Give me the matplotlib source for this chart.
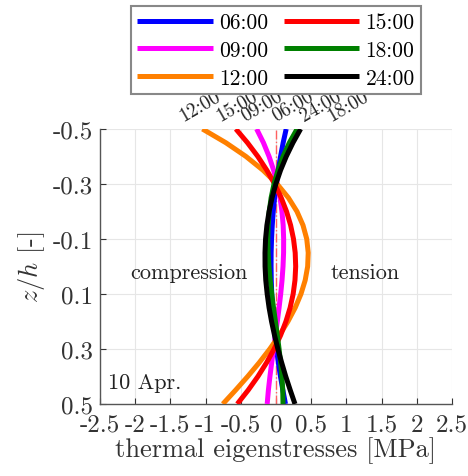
import matplotlib
matplotlib.use("Agg")
import matplotlib.pyplot as plt

plt.rcParams["font.family"] = ["cmr10", "DejaVu Serif"]
plt.rcParams["mathtext.fontset"] = "cm"
plt.rcParams["axes.formatter.use_mathtext"] = True

# depth coordinate through the slab thickness
z = [-0.50, -0.45, -0.40, -0.35, -0.30, -0.25, -0.20, -0.15, -0.10, -0.05, 0.00,
     0.05, 0.10, 0.15, 0.20, 0.25, 0.30, 0.35, 0.40, 0.45, 0.50]

# thermal eigenstress profiles [MPa] at different times of day
s_0600 = [0.145, 0.102, 0.065, 0.032, 0.004, -0.020, -0.039, -0.053, -0.063, -0.069, -0.070,
          -0.067, -0.060, -0.049, -0.034, -0.015, 0.007, 0.034, 0.064, 0.098, 0.135]
s_0900 = [-0.275, -0.178, -0.098, -0.033, 0.019, 0.058, 0.085, 0.102, 0.109, 0.108, 0.100,
          0.086, 0.067, 0.044, 0.019, -0.008, -0.035, -0.061, -0.086, -0.108, -0.125]
s_1200 = [-1.045, -0.712, -0.426, -0.184, 0.016, 0.176, 0.298, 0.384, 0.437, 0.458, 0.450,
          0.415, 0.355, 0.273, 0.170, 0.049, -0.088, -0.239, -0.402, -0.575, -0.755]
s_1500 = [-0.570, -0.405, -0.258, -0.130, -0.019, 0.074, 0.150, 0.208, 0.249, 0.273, 0.280,
          0.270, 0.244, 0.201, 0.141, 0.066, -0.026, -0.134, -0.257, -0.396, -0.550]
s_1800 = [0.300, 0.190, 0.100, 0.028, -0.028, -0.069, -0.096, -0.111, -0.116, -0.112, -0.100,
          -0.082, -0.060, -0.035, -0.008, 0.019, 0.044, 0.066, 0.084, 0.096, 0.100]
s_2400 = [0.350, 0.241, 0.146, 0.065, -0.002, -0.056, -0.098, -0.129, -0.148, -0.156, -0.155,
          -0.145, -0.125, -0.098, -0.063, -0.021, 0.027, 0.081, 0.139, 0.203, 0.270]

times = ["06:00", "09:00", "12:00", "15:00", "18:00", "24:00"]
profiles = [s_0600, s_0900, s_1200, s_1500, s_1800, s_2400]
colors = ["#0000ff", "#ff00ff", "#ff8000", "#ff0000", "#008000", "#000000"]

# x position of each time label above the top surface
label_x = [0.24, -0.20, -1.08, -0.55, 1.02, 0.64]

x_ticks = [-2.5, -2, -1.5, -1, -0.5, 0, 0.5, 1, 1.5, 2, 2.5]
x_ticklabels = ["-2.5", "-2", "-1.5", "-1", "-0.5", "0", "0.5", "1", "1.5", "2", "2.5"]
y_ticks = [-0.5, -0.3, -0.1, 0.1, 0.3, 0.5]
y_ticklabels = ["-0.5", "-0.3", "-0.1", "0.1", "0.3", "0.5"]

fig = plt.figure(figsize=(4.68, 4.77), dpi=100)
ax = fig.add_axes([0.2137, 0.151, 0.752, 0.5765])

ax.axvline(0, color="#ff6060", lw=1.0, ls="-.", zorder=1)

lines = []
for t, s, c in zip(times, profiles, colors):
    ln, = ax.plot(s, z, color=c, lw=3.6, label=t, zorder=3, solid_capstyle="butt")
    lines.append(ln)

for t, lx in zip(times, label_x):
    ax.text(lx, -0.515, t, rotation=30, ha="center", va="bottom",
            fontsize=14, color="#222222", clip_on=False)

ax.set_xlim(-2.5, 2.5)
ax.set_ylim(0.5, -0.5)
ax.set_xticks(x_ticks)
ax.set_xticklabels(x_ticklabels)
ax.set_yticks(y_ticks)
ax.set_yticklabels(y_ticklabels)
ax.tick_params(direction="in", labelsize=18, colors="#333333", length=4, pad=5)
ax.tick_params(axis="x", pad=7)
ax.grid(True, color="#e6e6e6", lw=0.8)
ax.set_axisbelow(True)
for side in ("top", "right"):
    ax.spines[side].set_visible(False)
for side in ("left", "bottom"):
    ax.spines[side].set_color("#555555")
    ax.spines[side].set_linewidth(1.0)

ax.set_xlabel("thermal eigenstresses [MPa]", fontsize=19, color="#333333", labelpad=0)
ax.set_ylabel(r"$z/h$ [-]", fontsize=19, color="#333333", labelpad=4)

ax.text(-1.24, 0.02, "compression", fontsize=16, ha="center", va="center", color="#222222")
ax.text(1.26, 0.02, "tension", fontsize=16, ha="center", va="center", color="#222222")
ax.text(-2.38, 0.42, "10 Apr.", fontsize=16, ha="left", va="center", color="#222222")

leg = fig.legend(lines, times,
                 ncol=2, loc="upper center", bbox_to_anchor=(0.59, 0.985),
                 fontsize=15.5, frameon=True, fancybox=False, edgecolor="#888888",
                 framealpha=1.0, handlelength=3.5, columnspacing=0.75, labelspacing=0.38,
                 borderpad=0.3, handletextpad=0.28, borderaxespad=0)
leg.get_frame().set_linewidth(1.5)

fig.savefig("out.png", dpi=100)
